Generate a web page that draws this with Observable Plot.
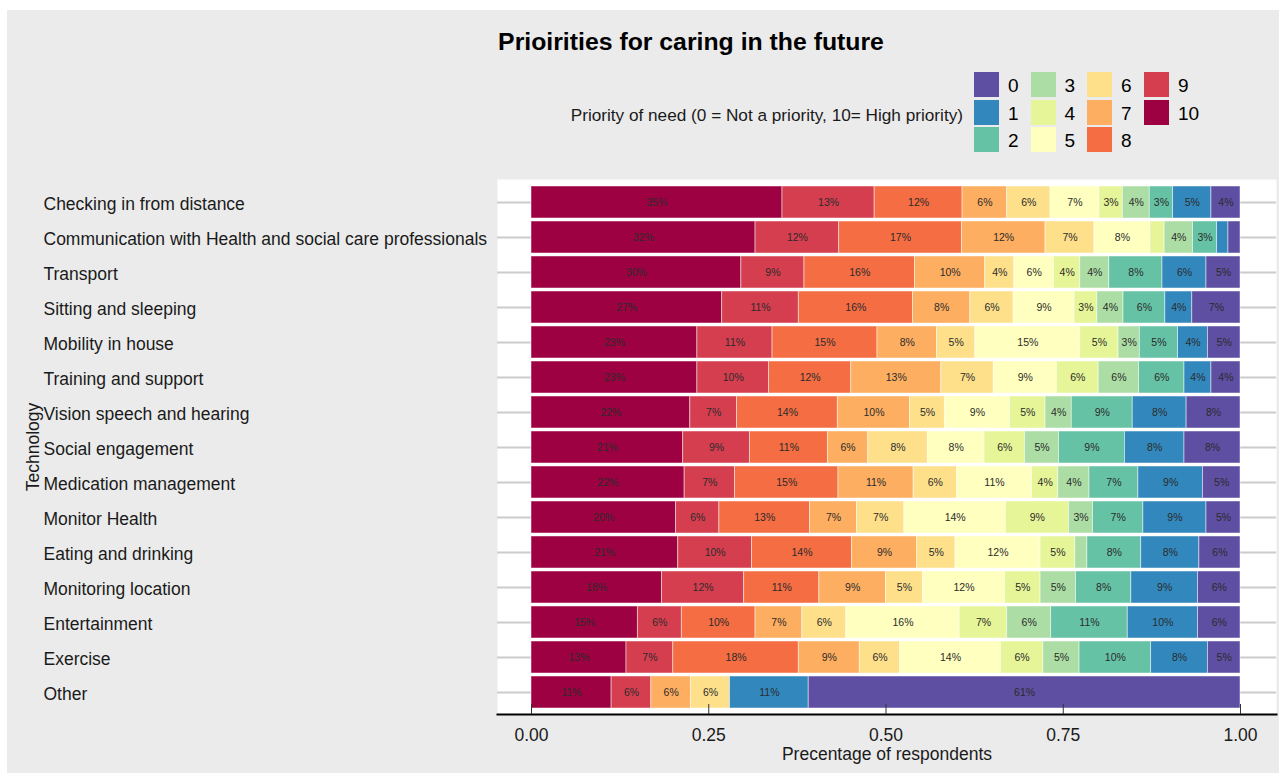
<!DOCTYPE html>
<html>
<head>
<meta charset="utf-8">
<script src="https://cdn.jsdelivr.net/npm/d3@7"></script>
<script src="https://cdn.jsdelivr.net/npm/@observablehq/plot@0.6"></script>
<style>
  html, body { margin: 0; padding: 0; background: #ffffff; }
  body { width: 1279px; height: 773px; position: relative; overflow: hidden; font-family: "Liberation Sans", Arial, sans-serif; }
  #panel { position: absolute; left: 7px; top: 10px; width: 1272px; height: 763px; background: #EBEBEB; }
  #chart { position: absolute; left: 7px; top: 10px; }
  #title { position: absolute; left: 391px; width: 600px; top: 27px; text-align: center; font-weight: bold; font-size: 24.8px; color: #000; line-height: 30px; }
  #legtitle { position: absolute; right: 316px; top: 104px; font-size: 17.2px; color: #1a1a1a; line-height: 22px; white-space: nowrap; }
  .key { position: absolute; width: 25px; height: 25px; }
  .klab { position: absolute; font-size: 19px; color: #000; line-height: 27px; }
</style>
</head>
<body>
<div id="panel"></div>
<div id="chart"></div>
<div id="title">Prioirities for caring in the future</div>
<div id="legtitle">Priority of need (0 = Not a priority, 10= High priority)</div>
<div id="legend"></div>
<script>
const categories = [
  "Checking in from distance",
  "Communication with Health and social care professionals",
  "Transport",
  "Sitting and sleeping",
  "Mobility in house",
  "Training and support",
  "Vision speech and hearing",
  "Social engagement",
  "Medication management",
  "Monitor Health",
  "Eating and drinking",
  "Monitoring location",
  "Entertainment",
  "Exercise",
  "Other"
];
const levels = ["10","9","8","7","6","5","4","3","2","1","0"];
const levelColors = {
  "0": "#5E4FA2", "1": "#3288BD", "2": "#66C2A5", "3": "#ABDDA4", "4": "#E6F598",
  "5": "#FFFFBF", "6": "#FEE08B", "7": "#FDAE61", "8": "#F46D43", "9": "#D53E4F", "10": "#9E0142"
};
const p10 = [.354,.316,.296,.269,.234,.234,.224,.214,.216,.204,.207,.184,.150,.134,.113];
const p9  = [.130,.118,.089,.108,.106,.101,.066,.094,.071,.061,.104,.116,.062,.066,.056];
const p8  = [.124,.173,.156,.161,.148,.116,.142,.110,.146,.128,.141,.106,.104,.177,0];
const p7  = [.063,.118,.099,.081,.084,.127,.102,.057,.106,.066,.092,.094,.066,.086,.056];
const p6  = [.061,.069,.041,.061,.054,.074,.049,.084,.061,.067,.054,.052,.062,.057,.055];
const p5  = [.069,.079,.056,.086,.148,.089,.092,.080,.106,.143,.120,.116,.160,.142,0];
const p4  = [.033,.020,.037,.032,.054,.059,.050,.057,.037,.089,.049,.050,.067,.060,0];
const p3  = [.038,.040,.041,.037,.030,.057,.037,.048,.044,.034,.017,.050,.062,.051,0];
const p2  = [.033,.034,.075,.059,.054,.064,.086,.093,.069,.071,.076,.078,.108,.101,0];
const p1  = [.054,.016,.062,.038,.042,.038,.076,.084,.091,.089,.082,.094,.099,.080,.111];
const p0  = [.041,.017,.048,.068,.046,.041,.076,.079,.053,.048,.058,.060,.060,.046,.609];
const xTicks = [0, 0.25, 0.5, 0.75, 1];

const seriesByLevel = {"10": p10, "9": p9, "8": p8, "7": p7, "6": p6, "5": p5, "4": p4, "3": p3, "2": p2, "1": p1, "0": p0};
const data = [];
for (const lv of levels) {
  seriesByLevel[lv].forEach((v, i) => data.push({cat: categories[i], level: lv, value: v}));
}
const pct = d3.format(".0%");

const plot = Plot.plot({
  width: 1272,
  height: 763,
  marginTop: 169,
  marginBottom: 59,
  marginLeft: 490,
  marginRight: 3,
  style: {background: "transparent", fontFamily: "'Liberation Sans', Arial, sans-serif", fontSize: "17.5px", color: "#1a1a1a"},
  x: {domain: [0, 1], insetLeft: 34, insetRight: 36},
  y: {domain: categories, paddingInner: 0.1, paddingOuter: 0.15},
  color: {domain: Object.keys(levelColors), range: Object.values(levelColors)},
  marks: [
    Plot.frame({fill: "white"}),
    Plot.gridY({stroke: "#cccccc", strokeOpacity: 1, strokeWidth: 2}),
    Plot.barX(data, Plot.stackX({x: "value", y: "cat", fill: "level", order: null, offset: "normalize",
      stroke: "white", strokeWidth: 0.8, strokeOpacity: 0.6})),
    Plot.text(data, Plot.stackX({x: "value", y: "cat", z: "level", order: null, offset: "normalize",
      text: d => d.value >= 0.025 ? pct(d.value) : "", fontSize: 10.5, fill: "#2b2b2b"})),
    Plot.frame({anchor: "bottom", stroke: "black", strokeWidth: 2}),
    Plot.axisX({ticks: xTicks, tickFormat: d3.format(".2f"), tickSize: 10, dy: -10, tickPadding: 14, label: null, stroke: "#333", fill: "#1a1a1a"}),
    Plot.axisY({tickSize: 0, tickPadding: 0, textAnchor: "start", dx: -454, dy: 1.5, label: null, fill: "#1a1a1a"}),
    Plot.text(["Technology"], {frameAnchor: "left", textAnchor: "middle", rotate: -90, dx: -464, fontSize: 17.5, fill: "#1a1a1a"}),
    Plot.text(["Precentage of respondents"], {frameAnchor: "bottom", dy: 45, fontSize: 17.5, fill: "#1a1a1a"})
  ]
});
document.getElementById("chart").appendChild(plot);

// legend (column-major, 3 rows)
const legend = document.getElementById("legend");
const legendOrder = ["0","1","2","3","4","5","6","7","8","9","10"];
const colX = [974, 1030.5, 1087, 1144];
const rowY = [72, 99.5, 127];
legendOrder.forEach((lv, i) => {
  const c = Math.floor(i / 3), r = i % 3;
  const k = document.createElement("div");
  k.className = "key";
  k.style.left = colX[c] + "px";
  k.style.top = rowY[r] + "px";
  k.style.background = levelColors[lv];
  legend.appendChild(k);
  const t = document.createElement("div");
  t.className = "klab";
  t.style.left = (colX[c] + 34) + "px";
  t.style.top = rowY[r] + "px";
  t.textContent = lv;
  legend.appendChild(t);
});
</script>
</body>
</html>
